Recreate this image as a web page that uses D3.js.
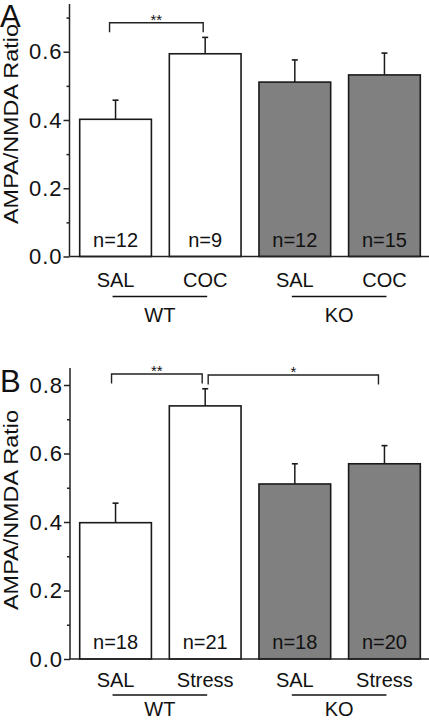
<!DOCTYPE html>
<html><head><meta charset="utf-8">
<script src="https://cdn.jsdelivr.net/npm/d3@7"></script>
<style>body{margin:0;background:#fff}svg{display:block}text{font-family:"Liberation Sans",Arial,Helvetica,sans-serif;fill:#111}</style>
</head><body>
<script>
// ---- data ----
const categories = ["WT-SAL", "WT-TRT", "KO-SAL", "KO-TRT"];
const groupNames = ["WT", "KO"];
const groupOf = [0, 0, 1, 1];
const fills = ["#ffffff", "#ffffff", "#808080", "#808080"];

const labelsA = ["SAL", "COC", "SAL", "COC"];
const meansA = [0.402, 0.594, 0.511, 0.532];
const semA = [0.056, 0.048, 0.065, 0.064];
const nA = [12, 9, 12, 15];
const ticksA = [0.0, 0.2, 0.4, 0.6];
const minorA = [0.1, 0.3, 0.5, 0.7];
const sigA = [{from: 0, to: 1, level: 0.685, label: "**"}];

const labelsB = ["SAL", "Stress", "SAL", "Stress"];
const meansB = [0.398, 0.739, 0.511, 0.570];
const semB = [0.057, 0.050, 0.059, 0.053];
const nB = [18, 21, 18, 20];
const ticksB = [0.0, 0.2, 0.4, 0.6, 0.8];
const minorB = [0.1, 0.3, 0.5, 0.7];
const sigB = [{from: 0, to: 1, level: 0.832, label: "**"}, {from: 1, to: 3, level: 0.829, label: "*"}];

const W = 429, H = 720;
const svg = d3.select("body").append("svg").attr("width", W).attr("height", H);

const x = d3.scaleBand().domain(categories).range([71, 429]).paddingInner(0.2).paddingOuter(0.097);

function panel(cfg) {
  const g = svg.append("g");
  const y = d3.scaleLinear().domain([0, cfg.ymax]).range([cfg.y0, cfg.y0 - cfg.ymax * cfg.ppu]);
  const ax = cfg.axisX;
  // y axis
  const yAxis = d3.axisLeft(y).tickValues(cfg.ticks).tickFormat(d3.format(".1f")).tickSize(6).tickPadding(1);
  const ga = g.append("g").attr("transform", `translate(${ax},0)`).call(yAxis);
  ga.select(".domain").remove();
  ga.selectAll("line").attr("stroke", "#222").attr("stroke-width", 1.5);
  ga.selectAll("text").style("font-size", "22px").style("letter-spacing", "1px").attr("fill", "#111");
  const gm = g.append("g").attr("transform", `translate(${ax},0)`).call(d3.axisLeft(y).tickValues(cfg.minor).tickSize(3).tickFormat(""));
  gm.select(".domain").remove();
  gm.selectAll("line").attr("stroke", "#222").attr("stroke-width", 1.5);
  g.append("line").attr("x1", ax).attr("x2", ax).attr("y1", y(0)).attr("y2", y(cfg.ymax)).attr("stroke", "#222").attr("stroke-width", 1.5);
  // bars
  const cx = i => x(categories[i]) + x.bandwidth() / 2;
  g.selectAll("rect.bar").data(cfg.means).enter().append("rect")
    .attr("x", (d, i) => x(categories[i])).attr("width", x.bandwidth())
    .attr("y", d => y(d)).attr("height", d => y(0) - y(d))
    .attr("fill", (d, i) => fills[i]).attr("stroke", "#1a1a1a").attr("stroke-width", 1.6);
  // error bars
  cfg.means.forEach((m, i) => {
    g.append("line").attr("x1", cx(i)).attr("x2", cx(i)).attr("y1", y(m)).attr("y2", y(m + cfg.sem[i])).attr("stroke", "#1a1a1a").attr("stroke-width", 1.5);
    g.append("line").attr("x1", cx(i) - 3).attr("x2", cx(i) + 3).attr("y1", y(m + cfg.sem[i])).attr("y2", y(m + cfg.sem[i])).attr("stroke", "#1a1a1a").attr("stroke-width", 1.6);
    g.append("text").attr("x", cx(i)).attr("y", y(0) - 10).attr("text-anchor", "middle").style("font-size", "20px").text("n=" + cfg.n[i]);
    g.append("text").attr("x", cx(i)).attr("y", y(0) + cfg.catDy).attr("text-anchor", "middle").style("font-size", "20px").text(cfg.labels[i]);
  });
  // x axis baseline
  g.append("line").attr("x1", ax).attr("x2", W).attr("y1", y(0)).attr("y2", y(0)).attr("stroke", "#222").attr("stroke-width", 1.6);
  // group lines and labels
  groupNames.forEach((gn, k) => {
    const idx = categories.map((c, i) => i).filter(i => groupOf[i] === k);
    const a = cx(idx[0]) - 3, b = cx(idx[idx.length - 1]) + 2;
    g.append("line").attr("x1", a).attr("x2", b).attr("y1", y(0) + cfg.lineDy).attr("y2", y(0) + cfg.lineDy).attr("stroke", "#111").attr("stroke-width", 1.5);
    g.append("text").attr("x", (a + b) / 2).attr("y", y(0) + cfg.groupDy).attr("text-anchor", "middle").style("font-size", "20px").text(gn);
  });
  // significance
  cfg.sig.forEach((s, k) => {
    const a = cx(s.from) + cfg.sigInset[k][0], b = cx(s.to) + cfg.sigInset[k][1];
    const yy = y(s.level);
    g.append("path").attr("d", `M${a},${yy + 9.5}V${yy}H${b}V${yy + 9.5}`).attr("fill", "none").attr("stroke", "#222").attr("stroke-width", 1.4);
    g.append("text").attr("x", (a + b) / 2).attr("y", yy + 2).attr("text-anchor", "middle").style("font-size", "15px").text(s.label);
  });
  // y label
  g.append("text").attr("transform", `translate(17.5,${cfg.ylabelY}) rotate(-90)`).attr("text-anchor", "middle")
    .attr("textLength", 200).attr("lengthAdjust", "spacingAndGlyphs").style("font-size", "20.5px").text("AMPA/NMDA Ratio");
  // panel letter
  g.append("text").attr("x", 0).attr("y", cfg.letterY).style("font-size", "31px").text(cfg.letter);
}

panel({ymax: 0.74, y0: 256.5, ppu: 341.3, axisX: 69.5, ticks: ticksA, minor: minorA, means: meansA, sem: semA, n: nA, labels: labelsA,
  sig: sigA, sigInset: [[-6, -2]], catDy: 30, lineDy: 40, groupDy: 65, ylabelY: 124, letter: "A", letterY: 27});
panel({ymax: 0.85, y0: 659, ppu: 342.5, axisX: 70, ticks: ticksB, minor: minorB, means: meansB, sem: semB, n: nB, labels: labelsB,
  sig: sigB, sigInset: [[-4, -3], [3, -6]], catDy: 27.7, lineDy: 36, groupDy: 57, ylabelY: 510, letter: "B", letterY: 392});
</script>
</body></html>
